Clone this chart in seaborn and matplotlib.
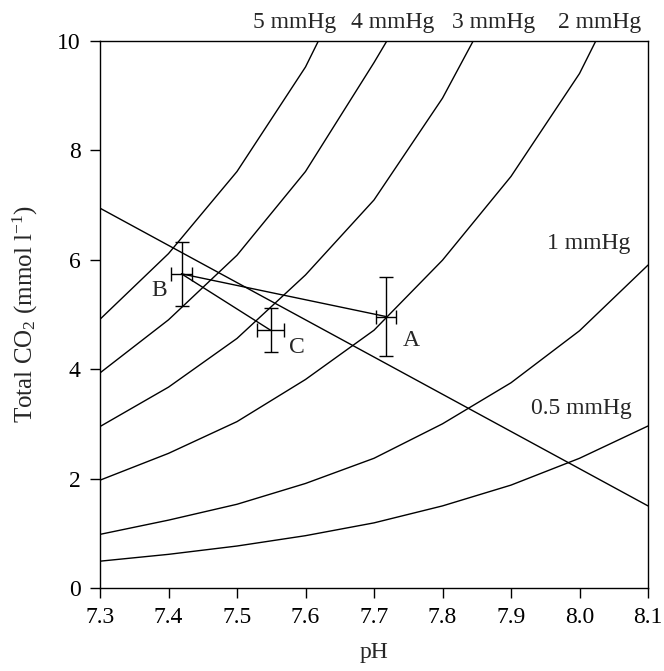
import matplotlib
matplotlib.use("Agg")
import matplotlib.pyplot as plt
import seaborn as sns
import pandas as pd

# ---- data ----
ph_grid = [7.3, 7.4, 7.5, 7.6, 7.7, 7.8, 7.9, 8.0, 8.1]

co2_05 = [0.49, 0.615, 0.767, 0.956, 1.19, 1.50, 1.88, 2.37, 2.96]
co2_1 = [0.98, 1.24, 1.53, 1.91, 2.37, 3.00, 3.75, 4.70, 5.90]
ph_2 = [7.3, 7.4, 7.5, 7.6, 7.7, 7.8, 7.9, 8.0, 8.024]
co2_2 = [1.97, 2.46, 3.04, 3.81, 4.71, 5.99, 7.52, 9.40, 10.0]
ph_3 = [7.3, 7.4, 7.5, 7.6, 7.7, 7.8, 7.845]
co2_3 = [2.95, 3.67, 4.56, 5.72, 7.09, 8.95, 10.0]
ph_4 = [7.3, 7.4, 7.5, 7.6, 7.7, 7.719]
co2_4 = [3.93, 4.90, 6.08, 7.61, 9.60, 10.0]
ph_5 = [7.3, 7.4, 7.5, 7.6, 7.619]
co2_5 = [4.91, 6.11, 7.61, 9.52, 10.0]

buffer_ph = [7.3, 8.1]
buffer_co2 = [6.94, 1.50]

pt_names = ["A", "B", "C"]
pt_ph = [7.7175, 7.419, 7.549]
pt_co2 = [4.96, 5.74, 4.71]
pt_ph_err = [0.014, 0.015, 0.0195]
pt_co2_err = [0.715, 0.59, 0.40]

curve_labels = ["5 mmHg", "4 mmHg", "3 mmHg", "2 mmHg", "1 mmHg", "0.5 mmHg"]

x_ticks = [7.3, 7.4, 7.5, 7.6, 7.7, 7.8, 7.9, 8.0, 8.1]
x_ticklabels = ["7.3", "7.4", "7.5", "7.6", "7.7", "7.8", "7.9", "8.0", "8.1"]
y_ticks = [0, 2, 4, 6, 8, 10]

# ---- style ----
sns.set_style("ticks")
plt.rcParams["font.family"] = ["Liberation Serif", "DejaVu Serif"]
plt.rcParams["mathtext.fontset"] = "custom"
plt.rcParams["mathtext.rm"] = "Liberation Serif"
plt.rcParams["mathtext.it"] = "Liberation Serif:italic"
plt.rcParams["mathtext.bf"] = "Liberation Serif:bold"

fig = plt.figure(figsize=(6.64, 6.71), dpi=100)
ax = fig.add_axes([100 / 664, 1 - 588 / 671, 548 / 664, (588 - 40.7) / 671])

lw = 1.0
curves = [
    (ph_grid, co2_05),
    (ph_grid, co2_1),
    (ph_2, co2_2),
    (ph_3, co2_3),
    (ph_4, co2_4),
    (ph_5, co2_5),
]
for xs, ys in curves:
    df = pd.DataFrame({"pH": xs, "CO2": ys})
    sns.lineplot(data=df, x="pH", y="CO2", color="black", lw=lw,
                 sort=False, estimator=None, ax=ax)

sns.lineplot(x=buffer_ph, y=buffer_co2, color="black", lw=lw,
             sort=False, estimator=None, ax=ax)

# connecting lines B-A and B-C
ia, ib, ic = 0, 1, 2
sns.lineplot(x=[pt_ph[ib], pt_ph[ia]], y=[pt_co2[ib], pt_co2[ia]],
             color="black", lw=lw, sort=False, estimator=None, ax=ax)
sns.lineplot(x=[pt_ph[ib], pt_ph[ic]], y=[pt_co2[ib], pt_co2[ic]],
             color="black", lw=lw, sort=False, estimator=None, ax=ax)

ax.errorbar(pt_ph, pt_co2, xerr=pt_ph_err, yerr=pt_co2_err, fmt="none",
            ecolor="black", elinewidth=lw, capsize=5, capthick=lw)

fs = 17
# point labels
ax.text(7.755, 4.53, "A", fontsize=fs, ha="center", va="center")
ax.text(7.387, 5.43, "B", fontsize=fs, ha="center", va="center")
ax.text(7.587, 4.40, "C", fontsize=fs, ha="center", va="center")

# curve labels
top_x = [7.584, 7.727, 7.874, 8.029]
for lab, xx in zip(curve_labels[:4], top_x):
    ax.text(xx, 10.34, lab, fontsize=fs, ha="center", va="center", clip_on=False)
ax.text(8.013, 6.29, curve_labels[4], fontsize=fs, ha="center", va="center")
ax.text(8.003, 3.28, curve_labels[5], fontsize=fs, ha="center", va="center")

ax.set_xlim(7.3, 8.1)
ax.set_ylim(0, 10)
ax.set_xticks(x_ticks)
ax.set_xticklabels(x_ticklabels)
ax.set_yticks(y_ticks)
ax.tick_params(axis="both", direction="out", length=7, width=1, labelsize=fs,
               pad=7, colors="black")
ax.tick_params(top=False, right=False)
for sp in ax.spines.values():
    sp.set_visible(True)
    sp.set_linewidth(1)
    sp.set_color("black")

ax.set_xlabel("pH", fontsize=fs, labelpad=10)
ax.set_ylabel("Total CO$_2$ (mmol l$^{-1}$)", fontsize=18, labelpad=12)

fig.savefig("out.png", dpi=100)
